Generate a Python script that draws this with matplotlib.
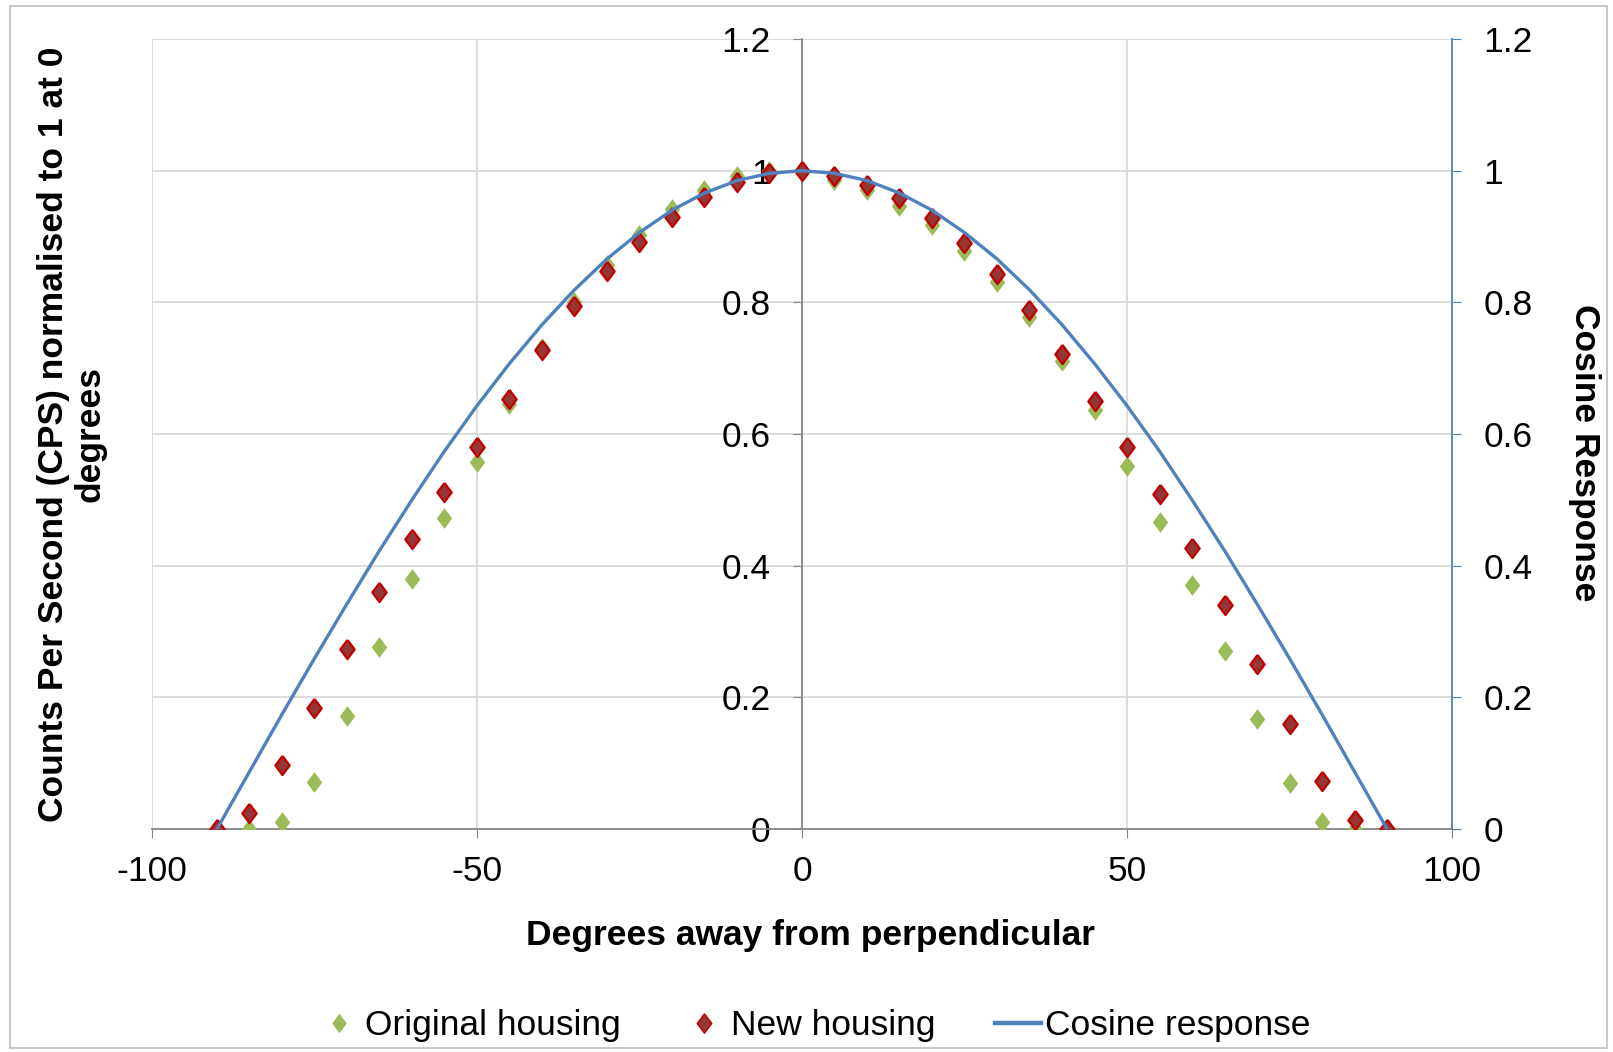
import matplotlib.pyplot as plt
from matplotlib.lines import Line2D
from matplotlib.patches import Rectangle

plt.rcParams['font.family'] = ['Liberation Sans', 'DejaVu Sans']
plt.rcParams['axes.unicode_minus'] = False

# angles (degrees away from perpendicular)
angles = [-90, -85, -80, -75, -70, -65, -60, -55, -50, -45, -40, -35, -30, -25, -20, -15, -10, -5,
          0, 5, 10, 15, 20, 25, 30, 35, 40, 45, 50, 55, 60, 65, 70, 75, 80, 85, 90]

# normalised CPS readings
original = [0.0, 0.0, 0.01, 0.072, 0.172, 0.277, 0.38, 0.472, 0.558, 0.645, 0.73, 0.80, 0.856, 0.903,
            0.942, 0.97, 0.992, 1.0, 1.0, 0.986, 0.97, 0.947, 0.917, 0.878, 0.831, 0.778, 0.711, 0.636,
            0.552, 0.467, 0.37, 0.27, 0.167, 0.07, 0.01, 0.0, 0.0]
new = [0.0, 0.025, 0.097, 0.184, 0.274, 0.36, 0.44, 0.512, 0.581, 0.653, 0.728, 0.795, 0.848, 0.892,
       0.93, 0.96, 0.983, 0.997, 1.0, 0.992, 0.978, 0.958, 0.928, 0.89, 0.843, 0.789, 0.722, 0.65,
       0.581, 0.509, 0.427, 0.34, 0.25, 0.16, 0.073, 0.014, 0.0]
cosine = [0.0, 0.087, 0.174, 0.259, 0.342, 0.423, 0.5, 0.574, 0.643, 0.707, 0.766, 0.819, 0.866, 0.906,
          0.940, 0.966, 0.985, 0.996, 1.0, 0.996, 0.985, 0.966, 0.940, 0.906, 0.866, 0.819, 0.766, 0.707,
          0.643, 0.574, 0.5, 0.423, 0.342, 0.259, 0.174, 0.087, 0.0]

xticks = [-100, -50, 0, 50, 100]
yticks = [0, 0.2, 0.4, 0.6, 0.8, 1.0, 1.2]
ytick_labels = ['0', '0.2', '0.4', '0.6', '0.8', '1', '1.2']

green = '#9BBB59'
red_fill = '#953735'
red_edge = '#C00000'
blue = '#4F81BD'
axis_grey = '#868686'
grid_grey = '#D9D9D9'
fs = 25.5

diamond = [(0, 1), (0.75, 0), (0, -1), (-0.75, 0), (0, 1)]

fig = plt.figure(figsize=(16.13, 10.52), dpi=100)
ax = fig.add_axes([0.0942, 0.2120, 0.8060, 0.7509])

ax.set_xlim(-100, 100)
ax.set_ylim(0, 1.2)
ax.set_xticks(xticks)
ax.set_yticks(yticks)
ax.set_yticklabels(ytick_labels)
ax.grid(True, color=grid_grey, linewidth=1.3)
ax.set_axisbelow(True)

for s in ['top', 'right']:
    ax.spines[s].set_visible(False)
ax.spines['left'].set_position(('data', 0))
ax.spines['left'].set_color(axis_grey)
ax.spines['bottom'].set_color(axis_grey)
ax.spines['left'].set_linewidth(1.3)
ax.spines['bottom'].set_linewidth(1.3)
ax.tick_params(axis='y', direction='out', length=6.5, color=axis_grey, labelsize=fs, pad=16)
ax.tick_params(axis='x', direction='out', length=6.5, color=axis_grey, labelsize=fs, pad=12)

ax.scatter(angles, original, marker=diamond, s=220, color=green, zorder=3, linewidths=0)
ax.scatter(angles, new, marker=diamond, s=190, facecolor=red_fill, edgecolor=red_edge,
           linewidths=1.6, zorder=4)

ax2 = ax.twinx()
ax2.set_ylim(0, 1.2)
ax2.set_yticks(yticks)
ax2.set_yticklabels(ytick_labels)
ax2.plot(angles, cosine, color=blue, linewidth=2.4, zorder=5)
for s in ['top', 'left', 'bottom']:
    ax2.spines[s].set_visible(False)
ax2.spines['right'].set_color(blue)
ax2.spines['right'].set_linewidth(1.3)
ax2.tick_params(axis='y', direction='out', length=6.5, color=blue, labelsize=fs, pad=16)

fig.text(72 / 1613, 1 - 434 / 1052, 'Counts Per Second (CPS) normalised to 1 at 0\ndegrees',
         rotation=90, ha='center', va='center', multialignment='center',
         fontsize=fs, fontweight='bold', linespacing=1.15)
fig.text(1584 / 1613, 1 - 453 / 1052, 'Cosine Response', rotation=270, ha='center', va='center',
         fontsize=fs, fontweight='bold')
fig.text(810 / 1613, 1 - 936 / 1052, 'Degrees away from perpendicular', ha='center', va='center',
         fontsize=fs, fontweight='bold')

handles = [
    Line2D([], [], linestyle='none', marker=diamond, markersize=14, color=green, markeredgewidth=0),
    Line2D([], [], linestyle='none', marker=diamond, markersize=14, markerfacecolor=red_fill,
           markeredgecolor=red_edge),
    Line2D([], [], color=blue, linewidth=3.2),
]
fig.legend(handles, ['Original housing', 'New housing', 'Cosine response'], loc='center',
           bbox_to_anchor=(813 / 1613, 1 - 1026 / 1052), ncol=3, frameon=False, fontsize=fs,
           handlelength=1.3, handletextpad=0.1, columnspacing=1.7)

fig.patches.append(Rectangle((0.006, 0.004), 0.99, 0.99, transform=fig.transFigure,
                             fill=False, edgecolor='#BFBFBF', linewidth=1.2))

fig.savefig('out.png', dpi=100)
